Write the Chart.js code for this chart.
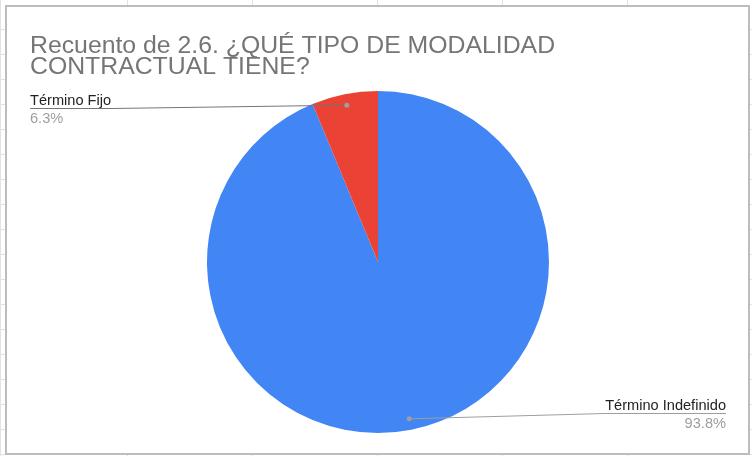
<!DOCTYPE html>
<html>
<head>
<meta charset="utf-8">
<script src="https://cdn.jsdelivr.net/npm/chart.js@4.4.1/dist/chart.umd.min.js"></script>
<style>
  html, body { margin: 0; padding: 0; }
  body {
    width: 752px; height: 456px; position: relative; overflow: hidden;
    background-color: #ffffff;
    background-image:
      repeating-linear-gradient(to bottom, transparent 0, transparent 24px, #e2e2e2 24px, #e2e2e2 25px),
      repeating-linear-gradient(to right, transparent 0, transparent 124px, #e2e2e2 124px, #e2e2e2 125px);
    background-position: 0 5px, 3px 0;
  }
  #box {
    position: absolute; left: 5px; top: 5px; width: 741px; height: 446px;
    border: 2px solid #bdbdbd; background: #ffffff; box-sizing: content-box;
  }
  #wrap { position: absolute; left: 0; top: 0; width: 752px; height: 456px; }
</style>
</head>
<body>
<div id="box"></div>
<div id="wrap"><canvas id="c" width="752" height="456"></canvas></div>
<script>
const titleLines = ['Recuento de 2.6. ¿QUÉ TIPO DE MODALIDAD', 'CONTRACTUAL TIENE?'];
const categories = ['Término Indefinido', 'Término Fijo'];
const counts = [15, 1];
const colors = ['#4285F4', '#EA4335'];

const FONT = '"Liberation Sans", Arial, sans-serif';

const labelPlugin = {
  id: 'sheetLabels',
  afterDraw(chart) {
    const ctx = chart.ctx;
    const meta = chart.getDatasetMeta(0);
    const total = counts.reduce((a, b) => a + b, 0);
    ctx.save();
    // title
    ctx.fillStyle = '#757575';
    ctx.font = '24.8px ' + FONT;
    ctx.textAlign = 'left';
    ctx.textBaseline = 'alphabetic';
    ctx.fillText(titleLines[0], 30, 53);
    ctx.fillText(titleLines[1], 30, 74);

    meta.data.forEach((arc, i) => {
      const p = arc.getProps(['x', 'y', 'startAngle', 'endAngle', 'outerRadius'], true);
      const mid = (p.startAngle + p.endAngle) / 2;
      const r = p.outerRadius * 0.935;
      const dx = p.x + Math.cos(mid) * r;
      const dy = p.y + Math.sin(mid) * r;
      const pct = (counts[i] / total * 100).toFixed(1) + '%';
      ctx.font = '14.6px ' + FONT;
      let lineY, x0, x1, textX;
      if (Math.cos(mid) < 0) {
        textX = 30;
        lineY = 108.5;
        const w = ctx.measureText(categories[i]).width;
        x0 = 30; x1 = 30 + w;
        ctx.strokeStyle = '#757575'; ctx.lineWidth = 1;
        ctx.beginPath(); ctx.moveTo(dx, dy); ctx.lineTo(x1, lineY); ctx.lineTo(x0, lineY); ctx.stroke();
        ctx.fillStyle = '#222222'; ctx.textAlign = 'left';
        ctx.fillText(categories[i], textX, 105);
        ctx.fillStyle = '#9e9e9e';
        ctx.fillText(pct, textX, 123);
      } else {
        textX = 726;
        lineY = 413.5;
        const w = ctx.measureText(categories[i]).width;
        x1 = 726; x0 = 726 - w;
        ctx.strokeStyle = '#9e9e9e'; ctx.lineWidth = 1;
        ctx.beginPath(); ctx.moveTo(dx, dy); ctx.lineTo(x0, lineY); ctx.lineTo(x1, lineY); ctx.stroke();
        ctx.fillStyle = '#222222'; ctx.textAlign = 'right';
        ctx.fillText(categories[i], textX, 410);
        ctx.fillStyle = '#9e9e9e';
        ctx.fillText(pct, textX, 428);
      }
      ctx.fillStyle = '#9e9e9e';
      ctx.beginPath(); ctx.arc(dx, dy, 2.5, 0, Math.PI * 2); ctx.fill();
    });
    ctx.restore();
  }
};

new Chart(document.getElementById('c'), {
  type: 'pie',
  data: {
    labels: categories,
    datasets: [{
      data: counts,
      backgroundColor: colors,
      borderWidth: 0
    }]
  },
  options: {
    responsive: false,
    animation: false,
    layout: { padding: { left: 207, right: 203, top: 91, bottom: 23 } },
    plugins: {
      legend: { display: false },
      tooltip: { enabled: false },
      title: { display: false }
    }
  },
  plugins: [labelPlugin]
});
</script>
</body>
</html>
